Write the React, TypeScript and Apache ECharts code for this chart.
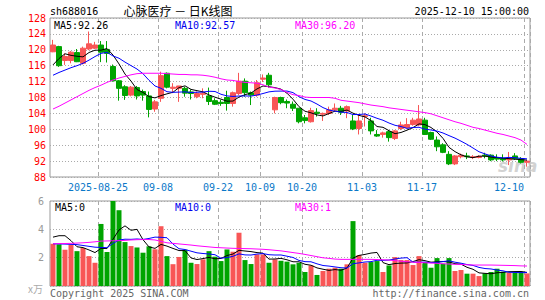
import React, { useEffect, useRef } from "react";
import * as echarts from "echarts";

const dates = [
  "2025-08-13","2025-08-14","2025-08-15","2025-08-18","2025-08-19","2025-08-20","2025-08-21","2025-08-22",
  "2025-08-25","2025-08-26","2025-08-27","2025-08-28","2025-08-29","2025-09-01","2025-09-02","2025-09-03","2025-09-04","2025-09-05",
  "2025-09-08","2025-09-09","2025-09-10","2025-09-11","2025-09-12","2025-09-15","2025-09-16","2025-09-17","2025-09-18","2025-09-19",
  "2025-09-22","2025-09-23","2025-09-24","2025-09-25","2025-09-26","2025-09-29","2025-09-30",
  "2025-10-09","2025-10-10","2025-10-13","2025-10-14","2025-10-15","2025-10-16","2025-10-17",
  "2025-10-20","2025-10-21","2025-10-22","2025-10-23","2025-10-24","2025-10-27","2025-10-28","2025-10-29","2025-10-30","2025-10-31",
  "2025-11-03","2025-11-04","2025-11-05","2025-11-06","2025-11-07","2025-11-10","2025-11-11","2025-11-12","2025-11-13","2025-11-14",
  "2025-11-17","2025-11-18","2025-11-19","2025-11-20","2025-11-21","2025-11-24","2025-11-25","2025-11-26","2025-11-27","2025-11-28",
  "2025-12-01","2025-12-02","2025-12-03","2025-12-04","2025-12-05","2025-12-08","2025-12-09","2025-12-10",
];

const opens = [
  119.5,120.8,117.3,117.3,119.3,116.6,120.2,120.4,121.2,120.1,
  115.8,112.2,110.7,108.6,110.5,109.5,108.4,105.1,107.8,114.1,
  110.3,110.3,110.3,109.4,108.2,108.8,108.4,107.2,106.8,108.0,
  106.5,109.0,112.1,109.2,108.6,112.6,113.6,104.9,108.0,107.0,
  106.3,105.3,102.9,101.9,104.3,103.8,104.0,104.9,105.3,104.6,
  102.1,100.2,103.2,102.1,98.7,98.7,99.4,97.7,100.2,100.4,
  101.2,101.1,102.3,99.2,97.3,96.1,93.7,91.3,93.1,93.3,
  92.9,92.9,93.5,93.5,92.9,92.7,92.3,93.3,92.6,91.7,
];
const closes = [
  121.2,116.0,118.3,119.4,117.0,120.4,121.5,121.2,119.4,119.1,
  112.2,110.3,108.5,110.6,108.4,108.6,105.0,106.9,113.5,110.6,
  110.6,110.9,109.1,109.0,109.0,109.1,107.0,106.3,106.5,106.5,
  109.2,112.1,109.2,108.6,111.7,112.9,111.2,108.0,106.7,106.6,
  105.3,101.9,102.2,104.7,104.0,104.0,104.9,105.3,104.3,105.7,
  100.1,102.1,103.4,99.6,98.3,99.1,97.9,99.6,101.1,101.2,
  102.3,102.6,98.7,97.5,95.6,94.2,91.3,93.3,93.5,93.1,
  93.1,93.2,93.3,92.3,92.5,92.3,92.7,92.6,91.7,92.0,
];
const lows = [
  119.4,115.7,116.2,116.6,116.9,116.3,119.9,120.2,116.9,116.8,
  112.0,107.2,107.4,108.3,107.5,107.2,103.0,104.4,106.9,110.3,
  109.1,106.9,108.2,107.5,107.8,107.8,106.1,106.1,105.9,104.7,
  105.7,108.6,108.2,106.1,108.2,111.9,110.5,104.0,106.3,105.3,
  104.6,101.5,101.5,101.7,103.2,102.1,103.6,104.4,103.6,102.8,
  99.8,98.7,100.7,98.7,98.1,97.9,96.9,97.3,99.8,100.2,
  100.9,100.8,98.6,97.3,94.5,94.0,91.0,91.0,92.7,92.5,
  92.5,92.7,92.7,92.0,92.0,91.9,91.0,92.3,91.4,90.6,
];
const highs = [
  122.5,121.0,119.1,119.7,120.2,120.8,124.6,122.0,122.2,122.2,
  116.3,112.4,111.1,110.9,110.9,110.0,109.5,107.4,114.5,114.3,
  111.6,110.9,110.7,110.0,109.5,110.3,110.5,107.8,107.4,109.7,
  109.5,114.2,112.8,109.5,112.4,113.8,114.2,108.2,108.2,107.5,
  107.0,105.3,103.6,105.4,105.3,104.2,105.7,106.5,105.9,106.0,
  103.6,103.6,104.0,102.9,99.8,99.4,99.8,99.8,101.9,102.8,
  102.9,106.1,102.9,99.4,98.2,96.5,94.5,93.5,93.9,94.1,
  93.5,93.5,94.1,93.7,93.7,93.7,94.3,94.0,93.0,92.3,
];
// volume, in units of 10,000 lots
const volumes = [
  2.98,2.94,2.56,2.91,2.46,2.68,2.11,1.64,4.38,2.40,
  6.00,5.35,3.10,2.82,2.72,2.35,2.80,2.59,4.22,2.11,
  1.54,2.05,2.56,1.64,1.55,1.88,2.46,2.07,1.76,2.58,
  2.42,3.76,1.83,1.55,2.23,2.23,1.64,1.88,1.78,1.72,
  1.53,1.64,0.99,1.45,0.78,1.06,1.22,1.29,1.22,1.53,
  4.58,2.18,1.64,1.69,1.76,0.99,1.45,2.04,1.83,1.83,
  1.48,2.11,1.69,1.29,1.97,1.57,1.97,1.06,1.13,0.87,
  0.87,0.70,0.89,0.99,1.22,1.01,0.94,0.94,1.01,0.89,
];

// moving-average values before the window's own data is long enough
const ma5Early = [116.2, 117.8, 119.0, 118.6];
const ma10Early = [113.6, 114.3, 114.9, 115.5, 116.0, 116.6, 117.4, 118.3, 119.1];
const ma30 = [
  105.1,105.8,106.6,107.4,108.2,109.0,109.8,110.5,111.1,111.8,
  112.4,112.9,113.3,113.7,114.0,114.1,114.1,114.1,114.1,114.0,
  113.9,113.8,113.8,113.7,113.7,113.6,113.4,113.1,112.7,112.4,
  112.3,112.0,111.8,111.7,111.6,111.2,110.6,110.4,110.0,109.3,
  108.7,108.5,108.1,108.0,108.0,108.0,108.0,107.8,107.3,107.1,
  106.9,106.7,106.4,106.1,105.9,105.7,105.4,105.2,105.0,104.8,
  104.6,104.4,104.2,103.9,103.4,102.9,102.4,101.9,101.5,101.0,
  100.5,100.2,99.8,99.4,99.0,98.7,98.3,97.9,97.3,96.2,
];
const volMa5Early = [3.45, 3.55, 3.55, 3.2];
const volMa10Early = [2.98, 2.97, 2.96, 2.94, 2.92, 2.86, 2.8, 2.74, 2.72];
const volMa30 = [
  2.98,2.99,3.00,3.01,3.03,3.05,3.08,3.12,3.17,3.18,
  3.19,3.20,3.22,3.25,3.27,3.28,3.28,3.25,3.15,3.05,
  3.01,2.97,2.93,2.89,2.84,2.80,2.76,2.72,2.70,2.68,
  2.66,2.65,2.64,2.63,2.61,2.59,2.56,2.52,2.48,2.42,
  2.36,2.30,2.23,2.15,2.07,1.99,1.95,1.90,1.88,1.88,
  1.88,1.88,1.88,1.88,1.87,1.85,1.83,1.79,1.75,1.71,
  1.68,1.66,1.64,1.62,1.60,1.57,1.55,1.53,1.52,1.50,
  1.48,1.48,1.48,1.48,1.47,1.46,1.45,1.44,1.42,1.41,
];

const labelIdx = [8, 18, 28, 35, 42, 52, 62, 79];
const priceMin = 88, priceMax = 128, priceStep = 4;
const volMin = 0, volMax = 6, volStep = 2;
const volLegend = ["MA5:0", "MA10:0", "MA30:1"];

const RED = "#f85656";
const GREEN = "#00a400";
const MONO = "DejaVu Sans Mono";

function movingAvg(src: number[], n: number, early: number[]) {
  return src.map((_, i) => {
    if (i < n - 1) return early[i];
    let s = 0;
    for (let k = i - n + 1; k <= i; k++) s += src[k];
    return Math.round((s / n) * 1000) / 1000;
  });
}

export default function App() {
  const ref = useRef<HTMLDivElement>(null);
  useEffect(() => {
    document.body.style.margin = "0";
    const chart = echarts.init(ref.current!, null, { renderer: "svg" });
    const ma5 = movingAvg(closes, 5, ma5Early);
    const ma10 = movingAvg(closes, 10, ma10Early);
    const vma5 = movingAvg(volumes, 5, volMa5Early);
    const vma10 = movingAvg(volumes, 10, volMa10Early);
    const last = dates.length - 1;
    const showIdx = (i: number) => labelIdx.indexOf(i) >= 0;

    const vSplit = { show: true, interval: (i: number) => showIdx(i), lineStyle: { color: "#aaa", type: [4, 3] as any, width: 1 } };
    const hSplit = { show: true, lineStyle: { color: "#aaa", type: [1, 2] as any, width: 1 } };
    const txt = (text: string, x: number, y: number, fill: string, align = "left", size = 10, family = MONO) => ({
      type: "text", x, y, z: 10,
      style: { text, fill, fontSize: size, fontFamily: family, textAlign: align, textVerticalAlign: "middle" },
    });

    chart.setOption({
      animation: false,
      backgroundColor: "#fff",
      grid: [
        { left: 50, top: 18, width: 480, height: 159, show: true, borderColor: "#999", borderWidth: 1, backgroundColor: "transparent" },
        { left: 50, top: 201, width: 480, height: 85, show: true, borderColor: "#999", borderWidth: 1, backgroundColor: "transparent" },
      ],
      xAxis: [
        {
          type: "category", gridIndex: 0, data: dates, boundaryGap: true,
          axisLine: { show: false }, axisTick: { show: false },
          axisLabel: {
            show: true, interval: (i: number) => showIdx(i), hideOverlap: false,
            color: "#0a78c8", fontSize: 10, fontFamily: MONO, margin: 5,
            formatter: (v: string, i: number) => {
              const t = i === 8 ? v : v.slice(5);
              return i === last ? `{b|${t}}` : `{a|${t}}`;
            },
            rich: {
              a: { color: "#0a78c8", fontSize: 10, fontFamily: MONO, padding: [0, 6, 0, 0] },
              b: { color: "#0a78c8", fontSize: 10, fontFamily: MONO, padding: [0, 36, 0, 0] },
            },
          },
          splitLine: vSplit,
        },
        {
          type: "category", gridIndex: 1, data: dates, boundaryGap: true,
          axisLine: { show: false }, axisTick: { show: false }, axisLabel: { show: false },
          splitLine: vSplit,
        },
      ],
      yAxis: [
        {
          type: "value", gridIndex: 0, min: priceMin, max: priceMax, interval: priceStep,
          axisLine: { show: false }, axisTick: { show: false },
          axisLabel: { color: "#ff0000", fontSize: 10, fontFamily: MONO, margin: 4 },
          splitLine: hSplit,
        },
        {
          type: "value", gridIndex: 1, min: volMin, max: volMax, interval: volStep,
          axisLine: { show: false }, axisTick: { show: false },
          axisLabel: { color: "#999", fontSize: 10, fontFamily: MONO, margin: 6, formatter: (v: number) => (v === 0 ? "" : String(v)) },
          splitLine: hSplit,
        },
      ],
      graphic: [
        { type: "text", x: 498, y: 166, z: 0, style: { text: "sina", fill: "rgba(195,195,195,0.75)", fontSize: 17, fontWeight: "bold", fontStyle: "italic", fontFamily: "DejaVu Sans", textAlign: "left", textVerticalAlign: "middle" } },
        txt("sh688016", 50, 11, "#000"),
        txt("心脉医疗 － 日K线图", 178, 10, "#000", "center", 12, "Noto Sans CJK SC"),
        txt("2025-12-10 15:00:00", 529, 11, "#000", "right"),
        txt(`MA5:${ma5[last].toFixed(2)}`, 54, 25, "#000"),
        txt(`MA10:${ma10[last].toFixed(2)}`, 175, 25, "#0000ee"),
        txt(`MA30:${ma30[last].toFixed(2)}`, 295, 25, "#ff00ff"),
        txt(volLegend[0], 55, 207, "#000"),
        txt(volLegend[1], 175, 207, "#0000ee"),
        txt(volLegend[2], 295, 207, "#ff00ff"),
        txt("x万", 28, 288, "#aaa", "left", 10, "Noto Sans CJK SC"),
        txt("Copyright 2025 SINA.COM", 50, 293, "#666"),
        txt("http://finance.sina.com.cn", 529, 293, "#666", "right"),
      ],
      series: [
        {
          type: "candlestick", xAxisIndex: 0, yAxisIndex: 0, barWidth: 5,
          data: dates.map((_, i) => [opens[i], closes[i], lows[i], highs[i]]),
          itemStyle: { color: RED, color0: GREEN, borderColor: RED, borderColor0: GREEN, borderWidth: 1 },
        },
        { type: "line", xAxisIndex: 0, yAxisIndex: 0, data: ma5, symbol: "none", lineStyle: { color: "#000", width: 1 }, z: 3 },
        { type: "line", xAxisIndex: 0, yAxisIndex: 0, data: ma10, symbol: "none", lineStyle: { color: "#0000ff", width: 1 }, z: 3 },
        { type: "line", xAxisIndex: 0, yAxisIndex: 0, data: ma30, symbol: "none", lineStyle: { color: "#ff00ff", width: 1 }, z: 3 },
        {
          type: "bar", xAxisIndex: 1, yAxisIndex: 1, barWidth: 5, data: volumes,
          itemStyle: { color: (p: any) => (closes[p.dataIndex] >= opens[p.dataIndex] ? RED : GREEN) },
        },
        { type: "line", xAxisIndex: 1, yAxisIndex: 1, data: vma5, symbol: "none", lineStyle: { color: "#000", width: 1 }, z: 3 },
        { type: "line", xAxisIndex: 1, yAxisIndex: 1, data: vma10, symbol: "none", lineStyle: { color: "#0000ff", width: 1 }, z: 3 },
        { type: "line", xAxisIndex: 1, yAxisIndex: 1, data: volMa30, symbol: "none", lineStyle: { color: "#ff00ff", width: 1 }, z: 3 },
      ],
    });
    return () => chart.dispose();
  }, []);
  return <div ref={ref} style={{ width: 545, height: 300 }} />;
}
